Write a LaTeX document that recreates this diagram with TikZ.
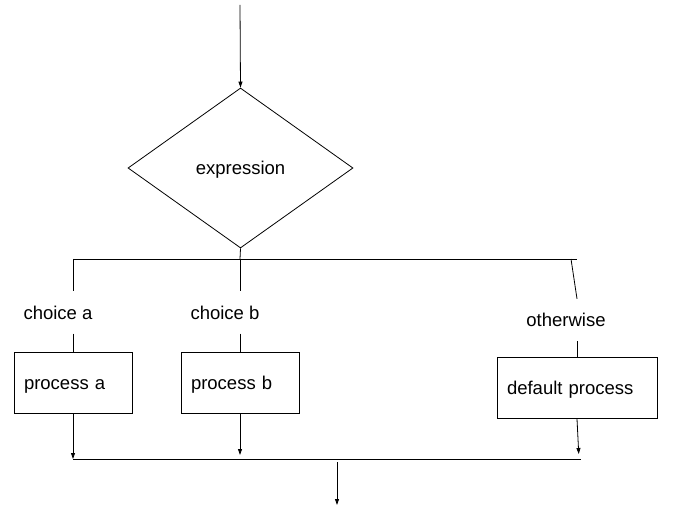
\documentclass[tikz,border=0pt]{standalone}
\usepackage{fontspec}
\setmainfont{Liberation Sans}
\usetikzlibrary{shapes.geometric,arrows.meta}
\begin{document}
\begin{tikzpicture}[x=1pt,y=-1pt,line width=0.8pt,
		txt/.style={font=\fontsize{18.5}{22}\selectfont},
		arr/.style={-{Triangle[length=6pt,width=4pt]}},
		proc/.style={txt,draw,rectangle,minimum height=61pt,inner xsep=10pt,align=left,text height=13pt,text depth=0pt},
		lbl/.style={txt,inner ysep=14pt}]
				\useasboundingbox (0,0) rectangle (685,521);
				\node[txt,draw,diamond,inner sep=0pt,text height=14pt,text depth=0pt,minimum width=225pt,minimum height=160pt] (expr) at (240.5,168) {expression};
				\coordinate (in) at (240,5);
				\draw[arr] (in) -- (expr.north);
				\coordinate (ja) at (73,259);
				\coordinate (jb) at (240,259);
				\coordinate (jc) at (577,259);
				\coordinate (jo) at (571,259);
				\draw (ja) -- (jc);
				\draw (expr.south) -- (jb);
				\node[lbl] (cha) at (58,312.5) {choice a};
				\node[lbl] (chb) at (225,312.5) {choice b};
				\node[lbl] (oth) at (566,320) {otherwise};
				\node[proc,text width=98pt] (pra) at (73,382.5) {process a};
				\node[proc,text width=98pt] (prb) at (240,382.5) {process b};
				\node[proc,text width=140pt] (prd) at (577,388) {default process};
				\draw (ja) -- (cha.north -| ja);
				\draw (jb) -- (chb.north -| jb);
				\draw (jo) -- (oth.north -| prd.north);
				\draw (cha.south -| pra.north) -- (pra.north);
				\draw (chb.south -| prb.north) -- (prb.north);
				\draw (oth.south -| prd.north) -- (prd.north);
				\coordinate (ka) at (73,459);
				\coordinate (kb) at (240,459);
				\coordinate (kd) at (579,459);
				\coordinate (ke) at (581,459);
				\draw (ka) -- (ke);
				\draw[arr] (pra.south) -- (ka);
				\draw[arr,shorten >=4pt] (prb.south) -- (kb);
				\draw[arr,shorten >=5pt] (prd.south) -- (kd);
				\coordinate (out) at (337,462);
				\coordinate (end) at (337,505);
				\draw[arr] (out) -- (end);
			\end{tikzpicture}
\end{document}
